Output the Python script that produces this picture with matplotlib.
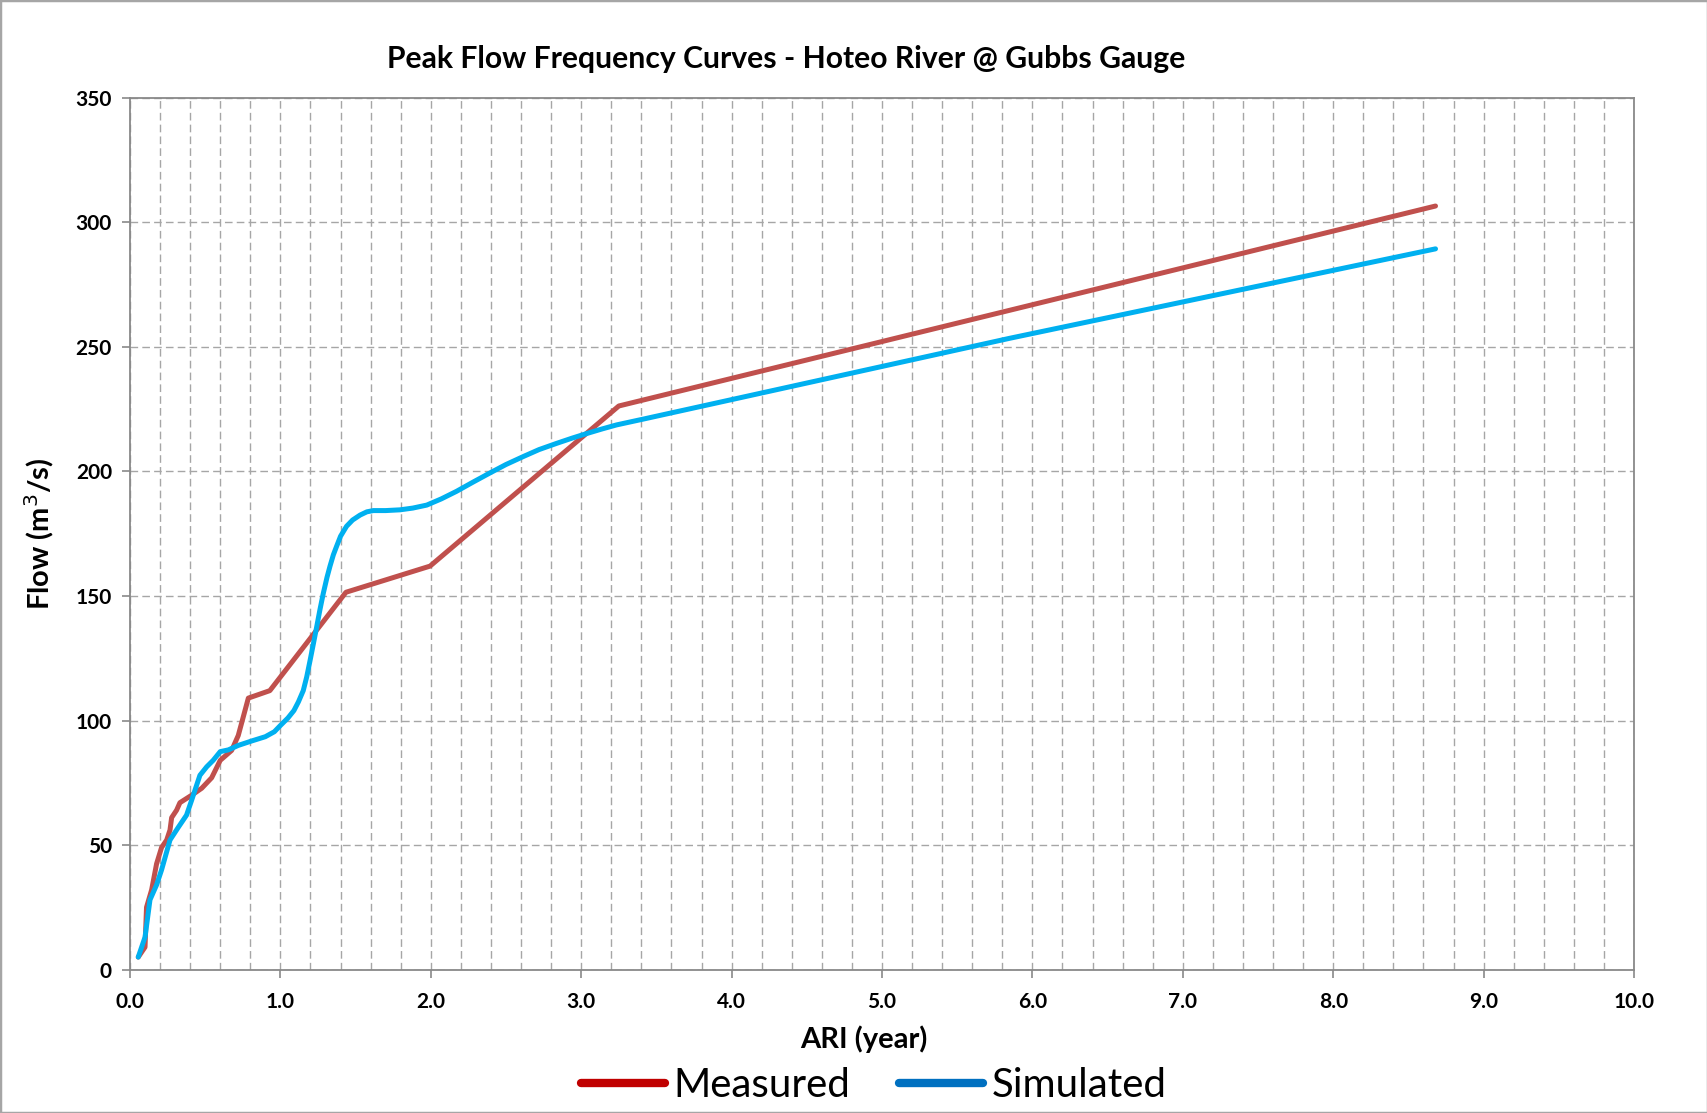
import matplotlib
matplotlib.use("Agg")
import matplotlib.pyplot as plt
from matplotlib.ticker import MultipleLocator
from matplotlib.lines import Line2D
from matplotlib.patches import Rectangle

plt.rcParams['font.family'] = ['Lato', 'DejaVu Sans']

title = "Peak Flow Frequency Curves - Hoteo River @ Gubbs Gauge"
x_label = "ARI (year)"
y_label = "Flow (m$^3$/s)"
series_names = ["Measured", "Simulated"]

x_ticks = [0, 1, 2, 3, 4, 5, 6, 7, 8, 9, 10]
x_tick_labels = ["0.0", "1.0", "2.0", "3.0", "4.0", "5.0", "6.0", "7.0", "8.0", "9.0", "10.0"]
y_ticks = [0, 50, 100, 150, 200, 250, 300, 350]
y_tick_labels = ["0", "50", "100", "150", "200", "250", "300", "350"]

ari_measured = [0.055, 0.10, 0.11, 0.144, 0.177, 0.21, 0.244, 0.266, 0.277, 0.31,
                0.332, 0.41, 0.477, 0.543, 0.60, 0.676, 0.72, 0.787, 0.93, 1.436,
                1.995, 3.25, 8.68]
flow_measured = [5, 9, 25, 32, 42.5, 49, 52, 56, 61, 64,
                 67, 70, 72.8, 77, 84, 88, 94, 109, 112, 151.5,
                 162, 226.3, 306.6]

ari_simulated = [0.055, 0.10, 0.133, 0.177, 0.21, 0.266, 0.32, 0.376, 0.41, 0.465,
                 0.51, 0.553, 0.60, 0.654, 0.72, 0.81, 0.90, 0.96, 1.0, 1.05,
                 1.09, 1.12, 1.152, 1.175, 1.197, 1.22, 1.241, 1.263, 1.285, 1.31,
                 1.33, 1.352, 1.374, 1.40, 1.44, 1.48, 1.53, 1.575, 1.618, 1.70,
                 1.795, 1.88, 1.973, 2.07, 2.17, 2.28, 2.39, 2.50, 2.615, 2.72,
                 2.837, 2.94, 3.04, 3.14, 3.235, 3.41, 5.85, 8.68]
flow_simulated = [5, 13, 28, 34, 40, 52, 57, 62, 68, 78,
                  81.4, 84, 87.5, 88.2, 90, 91.8, 93.5, 95.5, 98, 101,
                  104, 107.5, 112, 117.5, 124, 131, 137.5, 144.5, 151, 157.5,
                  162, 166.5, 170, 174, 178, 180.5, 182.5, 183.8, 184.3, 184.3,
                  184.6, 185.3, 186.5, 189, 192, 195.7, 199.3, 202.8, 206, 208.8,
                  211.3, 213.4, 215.3, 217.1, 218.7, 221, 253.5, 289.4]

line_colors = ["#C0504D", "#00B0F0"]
legend_colors = ["#C00000", "#0070C0"]

fig = plt.figure(figsize=(17.08, 11.13), dpi=100)
ax = fig.add_axes([0.0761, 0.1289, 0.8806, 0.7831])

ax.plot(ari_measured, flow_measured, color=line_colors[0], lw=3.6,
        solid_joinstyle='round', solid_capstyle='round', zorder=3)
ax.plot(ari_simulated, flow_simulated, color=line_colors[1], lw=3.6,
        solid_joinstyle='round', solid_capstyle='round', zorder=4)

ax.set_xlim(0, 10)
ax.set_ylim(0, 350)
ax.set_xticks(x_ticks, x_tick_labels, fontsize=15, fontweight='bold')
ax.set_yticks(y_ticks, y_tick_labels, fontsize=15, fontweight='bold')
ax.xaxis.set_minor_locator(MultipleLocator(0.2))

grid_kw = dict(color='#a6a6a6', linestyle=(0, (5.5, 3)), linewidth=1.0)
ax.grid(True, which='major', axis='both', **grid_kw)
ax.grid(True, which='minor', axis='x', **grid_kw)
ax.set_axisbelow(True)

for s in ax.spines.values():
    s.set_color('#898989')
    s.set_linewidth(1.3)

ax.tick_params(axis='both', which='major', direction='out', length=6,
               width=1.2, color='#898989')
ax.tick_params(axis='x', which='major', pad=10)
ax.tick_params(axis='y', which='major', pad=7)
ax.tick_params(axis='x', which='minor', length=0)

ax.set_xlabel(x_label, fontsize=21, fontweight='bold')
ax.set_ylabel(y_label, fontsize=21, fontweight='bold')
ax.xaxis.set_label_coords(0.488, -0.064)
ax.yaxis.set_label_coords(-0.049, 0.5)

fig.text(0.4605, 0.947, title, fontsize=21.7, fontweight='bold', ha='center', va='center')

handles = [Line2D([], [], color=c, lw=6, solid_capstyle='round') for c in legend_colors]
fig.legend(handles, series_names, loc='center', bbox_to_anchor=(0.5115, 0.025),
           ncol=2, frameon=False, fontsize=29, handlelength=2.1,
           handletextpad=0.2, columnspacing=1.2)

fig.patches.append(Rectangle((0, 0), 1, 1, transform=fig.transFigure, fill=False,
                             edgecolor='#a6a6a6', linewidth=2.5))

fig.savefig("out.png", dpi=100)
